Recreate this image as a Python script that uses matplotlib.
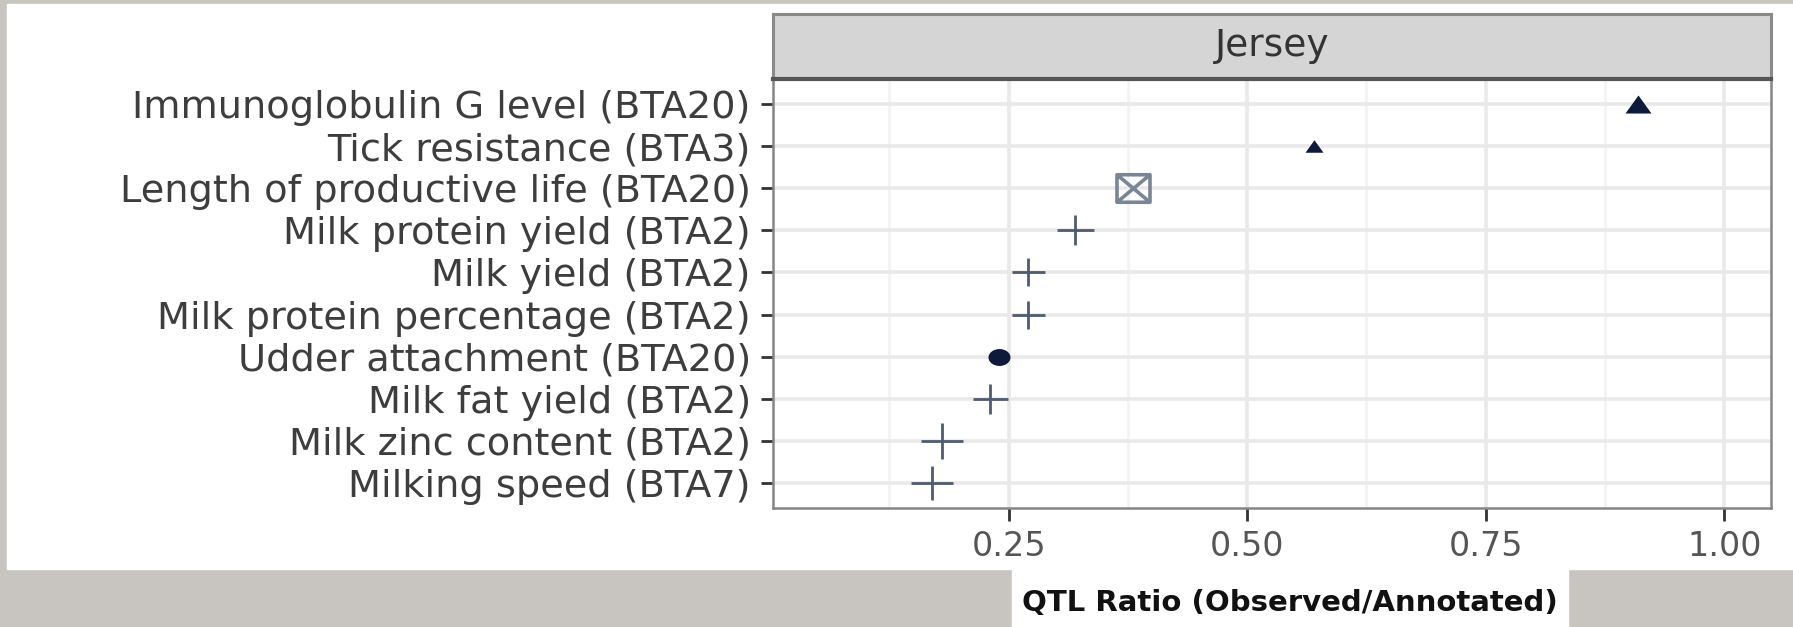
import numpy as np
import matplotlib.pyplot as plt
from matplotlib.patches import Rectangle
from matplotlib.path import Path
from matplotlib.transforms import Affine2D

# data (top row first)
traits = ['Immunoglobulin G level (BTA20)', 'Tick resistance (BTA3)',
          'Length of productive life (BTA20)', 'Milk protein yield (BTA2)',
          'Milk yield (BTA2)', 'Milk protein percentage (BTA2)',
          'Udder attachment (BTA20)', 'Milk fat yield (BTA2)',
          'Milk zinc content (BTA2)', 'Milking speed (BTA7)']
qtl_ratio = [0.91, 0.57, 0.38, 0.32, 0.27, 0.27, 0.24, 0.23, 0.18, 0.17]
qtl_type = ['tri', 'tri', 'box', 'plus', 'plus', 'plus', 'dot', 'plus', 'plus', 'plus']
qtl_size = [26, 18, 33, 37, 33, 33, 22, 35, 43, 41]
breed = 'Jersey'
x_ticks = [0.25, 0.50, 0.75, 1.00]

W, H = 1793, 627
bg = '#c8c5c0'

# stretched marker shapes (the reference image is widened)
tri = Path([(-0.72, -0.5), (0.72, -0.5), (0, 0.5), (-0.72, -0.5)],
           [Path.MOVETO, Path.LINETO, Path.LINETO, Path.CLOSEPOLY])
plus = Path([(-0.6, 0), (0.6, 0), (0, -0.5), (0, 0.5)],
            [Path.MOVETO, Path.LINETO, Path.MOVETO, Path.LINETO])
dot = Path.unit_circle().transformed(Affine2D().scale(0.65, 0.5))
bx, by = 0.6, 0.5
box = Path([(-bx, -by), (bx, -by), (bx, by), (-bx, by), (-bx, -by),
            (-bx, -by), (bx, by), (-bx, by), (bx, -by)],
           [Path.MOVETO, Path.LINETO, Path.LINETO, Path.LINETO, Path.CLOSEPOLY,
            Path.MOVETO, Path.LINETO, Path.MOVETO, Path.LINETO])
styles = {
    'tri': dict(marker=tri, color='#0e1a3c', mfc='#0e1a3c', mew=0),
    'dot': dict(marker=dot, color='#0e1a3c', mfc='#0e1a3c', mew=0),
    'plus': dict(marker=plus, color='#4e5c6f', mew=2.0),
    'box': dict(marker=box, color='#7a8596', mfc='none', mew=2.6),
}

fig = plt.figure(figsize=(W / 100, H / 100), dpi=100, facecolor=bg)
plt.rcParams['font.family'] = 'DejaVu Sans'

# white card + white box behind the x label
fig.add_artist(Rectangle((7 / W, 1 - 569 / H), 1 - 7 / W, (569 - 4) / H,
                         transform=fig.transFigure, color='white', zorder=-2))
fig.add_artist(Rectangle((1012 / W, 0), (1568 - 1012) / W, 1 - 569 / H,
                         transform=fig.transFigure, color='white', zorder=-2))

ax = fig.add_axes([773 / W, 1 - 508 / H, (1771 - 773) / W, (508 - 79) / H])
ax.set_facecolor('white')

n = len(traits)
ypos = np.arange(n, 0, -1)
for y, x, t, s in zip(ypos, qtl_ratio, qtl_type, qtl_size):
    ax.plot([x], [y], linestyle='none', ms=s * 0.72, zorder=3, **styles[t])

ax.set_xlim(0.003, 1.049)
ax.set_ylim(0.4, n + 0.6)
ax.set_yticks(ypos)
ax.set_yticklabels(traits, fontsize=27.5, color='#3d3d3d')
ax.set_xticks(x_ticks)
ax.set_xticklabels([f'{v:.2f}' for v in x_ticks], fontsize=24, color='#555555')
ax.set_xticks([0.125, 0.375, 0.625, 0.875], minor=True)
ax.tick_params(axis='both', which='major', length=9, width=2, color='#333333', pad=7)
ax.tick_params(axis='x', which='minor', length=0)
ax.grid(True, which='major', color='#e9e9e9', lw=2.6, zorder=0)
ax.grid(True, which='minor', axis='x', color='#f2f2f2', lw=1.8, zorder=0)
ax.set_axisbelow(True)
for sp in ax.spines.values():
    sp.set_color('#858585')
    sp.set_linewidth(1.8)

# facet strip
st = fig.add_axes([773 / W, 1 - 79 / H, (1771 - 773) / W, (79 - 14) / H])
st.set_facecolor('#d5d5d5')
st.set_xticks([])
st.set_yticks([])
for sp in st.spines.values():
    sp.set_color('#8a8a8a')
    sp.set_linewidth(2.2)
st.spines['bottom'].set_color('#555555')
st.spines['bottom'].set_linewidth(3)
st.text(0.5, 0.5, breed, ha='center', va='center', fontsize=27, color='#333333',
        transform=st.transAxes)

fig.text(1290 / W, 1 - 603 / H, 'QTL Ratio (Observed/Annotated)', ha='center',
         va='center', fontsize=21, fontweight='bold', color='#111111')

fig.savefig('out.png', dpi=100, facecolor=bg)
